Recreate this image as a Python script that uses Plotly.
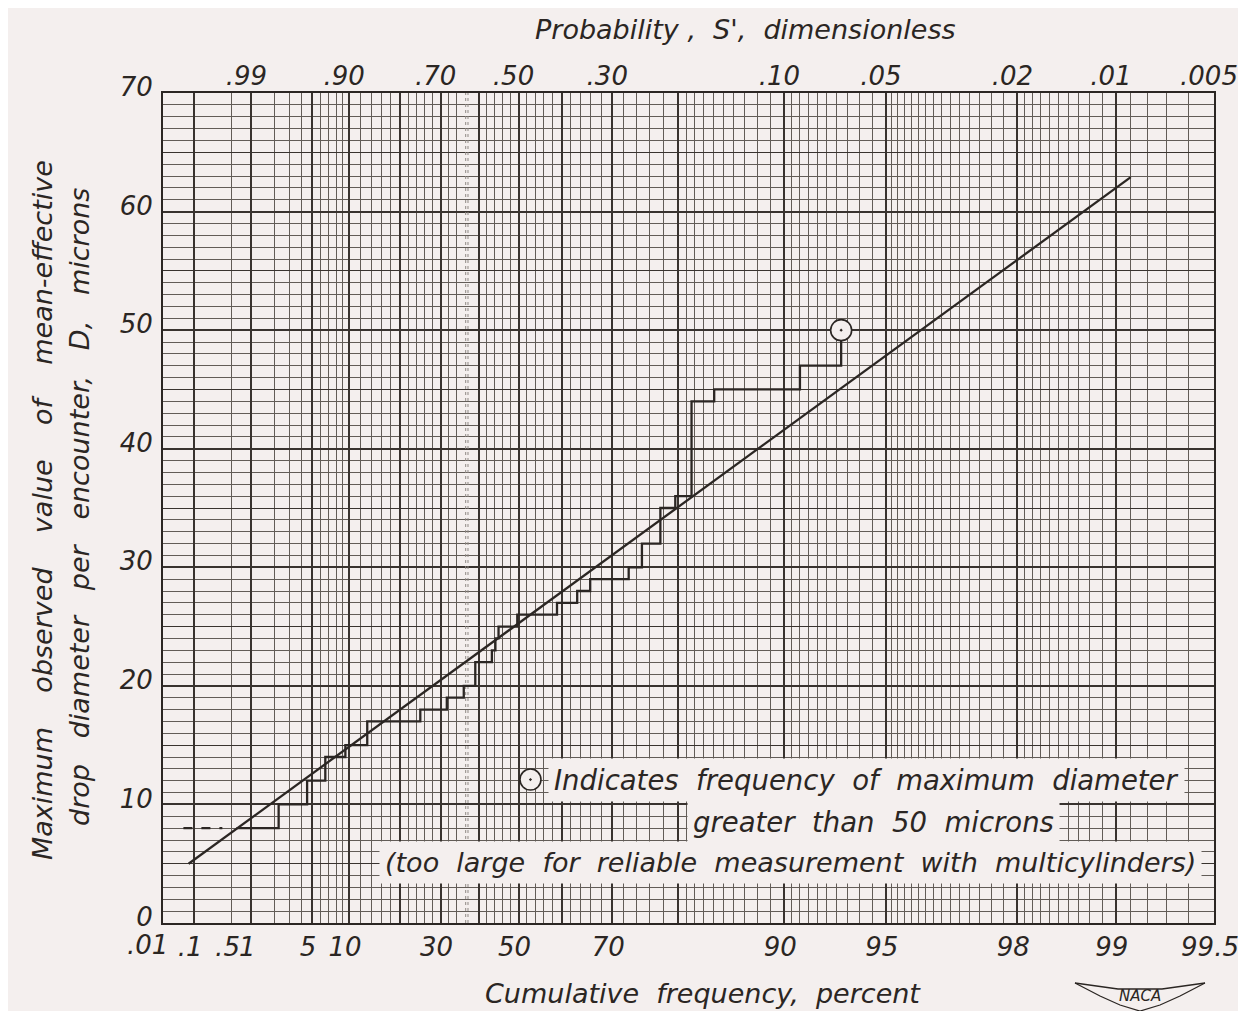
import numpy as np
import plotly.graph_objects as go

# ------------------------------------------------------------------ data
# fitted straight line (cumulative frequency %, diameter microns)
fit_freq = [0.076, 99.10]
fit_D = [5.0, 62.9]

# dashed lead-in of the observed staircase
dash_freq = [0.058, 0.35]
dash_D = [8, 8]

# observed staircase: start frequency of each level (%), level (microns)
step_freq = [0.6, 2.25, 4.5, 6.55, 9.4, 13.2, 24.9, 31.6, 36.0, 39.0, 43.3, 44.2,
             45.0, 49.7, 59.0, 63.3, 65.9, 72.8, 74.9, 77.6, 79.6, 81.6, 84.1,
             91.0, 93.2]
step_D = [8, 10, 12, 14, 15, 17, 18, 19, 20, 22, 23, 24, 25, 26, 27, 28, 29, 30,
          32, 35, 36, 44, 45, 47, 50]

# point with maximum diameter greater than 50 microns
over50_freq = [93.2]
over50_D = [50]

# legend symbol for the note
note_sym_freq = [52.9]
note_sym_D = [12.1]

# special (mode) line of the probability paper
mode_line_freq = [36.5, 37.1]

# axis ticks
bottom_tick_freq = [0.1, 0.5, 1, 5, 10, 30, 50, 70, 90, 95, 98, 99, 99.5]
bottom_tick_text = [".1", ".5", "1", "5", "10", "30", "50", "70", "90", "95", "98", "99", "99.5"]
outside_tick_freq = [0.01]
outside_tick_text = [".01"]
top_tick_prob = [0.99, 0.90, 0.70, 0.50, 0.30, 0.10, 0.05, 0.02, 0.01, 0.005]
top_tick_text = [".99", ".90", ".70", ".50", ".30", ".10", ".05", ".02", ".01", ".005"]
y_tick_vals = [0, 10, 20, 30, 40, 50, 60, 70]
y_mid_vals = [5, 15, 25, 35, 45, 55, 65]

# probability-paper grid (cumulative frequency %)
grid_major_freq = [0.1, 1, 5, 10, 20, 30, 40, 50, 60, 70, 80, 90, 95, 98, 99]
grid_minor_freq = ([0.5, 2, 3, 4, 6, 7, 8, 9, 12, 14, 16, 18, 22, 24, 26, 28, 32, 34,
                    42, 44, 46, 48, 52, 54, 56, 58, 62, 64, 66, 68, 72, 74, 76, 78,
                    81, 82, 83, 84, 85, 86, 87, 88, 89,
                    90.5, 91, 91.5, 92, 92.5, 93, 93.5, 94, 94.5,
                    95.2, 95.4, 95.6, 95.8, 96, 96.2, 96.4, 96.6, 96.8, 97, 97.2,
                    97.4, 97.6, 97.8,
                    98.1, 98.2, 98.3, 98.4, 98.5, 98.6, 98.7, 98.8, 98.9,
                    99.1, 99.2, 99.3, 99.4])

x_range_freq = [0.0182, 99.5]
y_range = [0, 70]


# ------------------------------------------------------------------ scale
def gumbel(p_percent):
    p = np.asarray(p_percent, dtype=float) / 100.0
    return -np.log(-np.log(p))


BG = "#f4efee"
INK = "#2b2623"
GRID_MAJ = "#39332f"
GRID_MIN = "#625c57"
FONT = "DejaVu Sans"

xr = [float(v) for v in gumbel(x_range_freq)]

fig = go.Figure()

# dummy traces to materialise the overlay axes
fig.add_trace(go.Scatter(x=[xr[0]], y=[0], xaxis="x2", yaxis="y", mode="markers",
                         marker=dict(opacity=0), hoverinfo="skip", showlegend=False))
fig.add_trace(go.Scatter(x=[xr[0]], y=[0], xaxis="x3", yaxis="y2", mode="markers",
                         marker=dict(opacity=0), hoverinfo="skip", showlegend=False))

# mode line (double dotted)
for f in mode_line_freq:
    fig.add_trace(go.Scatter(x=gumbel([f, f]), y=y_range, mode="lines",
                             line=dict(color="#8f8984", width=1, dash="dot"),
                             hoverinfo="skip", showlegend=False))

# fitted line
fig.add_trace(go.Scatter(x=gumbel(fit_freq), y=fit_D, mode="lines",
                         line=dict(color=INK, width=2.3), showlegend=False))
# dashed lead-in
fig.add_trace(go.Scatter(x=gumbel(dash_freq), y=dash_D, mode="lines",
                         line=dict(color=INK, width=2.3, dash="dash"), showlegend=False))
# staircase
fig.add_trace(go.Scatter(x=gumbel(step_freq), y=step_D, mode="lines",
                         line=dict(color=INK, width=2.3, shape="hv"), showlegend=False))
# circled point
fig.add_trace(go.Scatter(x=gumbel(over50_freq), y=over50_D, mode="markers",
                         marker=dict(symbol="circle-dot", size=21, color=BG,
                                     line=dict(color=INK, width=1.6)),
                         showlegend=False))

tickfont = dict(family=FONT, size=26, color=INK, style="italic")

# browser body margin is 8 px: plot area placed at screen x 163..1214, y 93..923
fig.update_layout(
    width=1246, height=1011,
    margin=dict(l=155, r=40, t=85, b=96),
    paper_bgcolor=BG, plot_bgcolor=BG,
    showlegend=False,
    font=dict(family=FONT, color=INK, style="italic"),
    xaxis=dict(range=xr, tickmode="array", tickvals=gumbel(bottom_tick_freq),
               ticktext=bottom_tick_text, tickfont=tickfont, showgrid=False,
               tickangle=0, zeroline=False, ticks="", ticklabelstandoff=0,
               ticklabelshift=-4,
               showline=True, linecolor=INK, linewidth=2, mirror=True),
    xaxis2=dict(range=xr, overlaying="x", side="top", anchor="y", tickmode="array",
                tickvals=gumbel([(1 - p) * 100 for p in top_tick_prob]),
                ticktext=top_tick_text, tickfont=tickfont, showgrid=False,
                tickangle=0, zeroline=False, ticks="", ticklabelstandoff=2,
                ticklabelshift=-5),
    xaxis3=dict(range=xr, overlaying="x", anchor="y2", showticklabels=False,
                tickmode="array", tickvals=gumbel(grid_major_freq),
                showgrid=True, gridcolor=GRID_MAJ, gridwidth=1.8, zeroline=False,
                ticks="",
                minor=dict(tickmode="array", tickvals=gumbel(grid_minor_freq),
                           showgrid=True, gridcolor=GRID_MIN, gridwidth=1, ticks="")),
    yaxis=dict(range=y_range, tickmode="array", tickvals=y_tick_vals,
               tickfont=tickfont, showgrid=True, gridcolor=GRID_MAJ, gridwidth=1.8,
               zeroline=False, ticks="", ticklabelstandoff=3, ticklabelshift=-6,
               showline=True, linecolor=INK, linewidth=2, mirror=True,
               minor=dict(dtick=1, showgrid=True, gridcolor=GRID_MIN, gridwidth=1,
                          ticks="")),
    yaxis2=dict(range=y_range, overlaying="y", showticklabels=False, tickmode="array",
                tickvals=y_mid_vals, showgrid=True, gridcolor=GRID_MAJ, gridwidth=1.4,
                zeroline=False, ticks=""),
)

# ---------------------------------------------------------------- texts
# convert screen pixel positions into paper fractions
PL, PW, PT, PH = 163, 1051, 93, 830


def px_x(px):
    return (px - PL) / PW


def px_y(py):
    return (PT + PH - py) / PH


x_lo, x_hi = xr
for f, t in zip(outside_tick_freq, outside_tick_text):
    fx = (float(gumbel(f)) - x_lo) / (x_hi - x_lo)
    fig.add_annotation(x=fx, y=0, xref="paper", yref="paper", text=t,
                       showarrow=False, xanchor="center", yanchor="top", yshift=-5,
                       xshift=-6, font=tickfont)

nb = "\u00a0"


def gap(n):
    return nb * n


def add_text(cx, cy, text, size, angle=0, bg=None):
    kw = dict(bgcolor=bg, borderpad=5) if bg else {}
    fig.add_annotation(x=px_x(cx), y=px_y(cy), xref="paper", yref="paper",
                       text=text, textangle=angle, showarrow=False,
                       xanchor="center", yanchor="middle",
                       font=dict(family=FONT, size=size, color=INK, style="italic"),
                       **kw)


add_text(745, 29, f"Probability{nb},{gap(2)}S',{gap(2)}dimensionless", 27)
add_text(703, 993, f"Cumulative{gap(2)}frequency,{gap(2)}percent", 27)
add_text(42, 510, gap(4).join(["Maximum", "observed", "value", "of", "mean-effective"]), 27, -90)
add_text(80, 507, gap(3).join(["drop", "diameter", "per", "encounter,", "D,", "microns"]), 27, -90)

add_text(866, 780, gap(2).join(["Indicates", "frequency", "of", "maximum", "diameter"]), 27.5, bg=BG)
add_text(873, 822, gap(2).join(["greater", "than", "50", "microns"]), 27.5, bg=BG)
add_text(790, 862, gap(2).join(["(too", "large", "for", "reliable", "measurement", "with",
                                "multicylinders)"]), 27, bg=BG)

# legend symbol of the note (drawn after the boxes so it stays visible)
fig.add_trace(go.Scatter(x=gumbel(note_sym_freq), y=note_sym_D, mode="markers",
                         marker=dict(symbol="circle-dot", size=21, color=BG,
                                     line=dict(color=INK, width=1.6)),
                         showlegend=False))

# NACA emblem
fig.add_annotation(x=px_x(1140), y=px_y(996), xref="paper", yref="paper", text="NACA",
                   showarrow=False, xanchor="center", yanchor="middle",
                   font=dict(family=FONT, size=15, color=INK))
wing = [(1075, 983), (1118, 989), (1162, 989), (1205, 983)]
belly = [(1075, 983), (1100, 996), (1120, 1005), (1140, 1011), (1160, 1005),
         (1180, 996), (1205, 983)]
for pts in (wing, belly):
    path = "M " + " L ".join(f"{px_x(a)} {px_y(b)}" for a, b in pts)
    fig.add_shape(type="path", xref="paper", yref="paper", path=path,
                  line=dict(color=INK, width=1.3))

fig.write_html("out.html")
